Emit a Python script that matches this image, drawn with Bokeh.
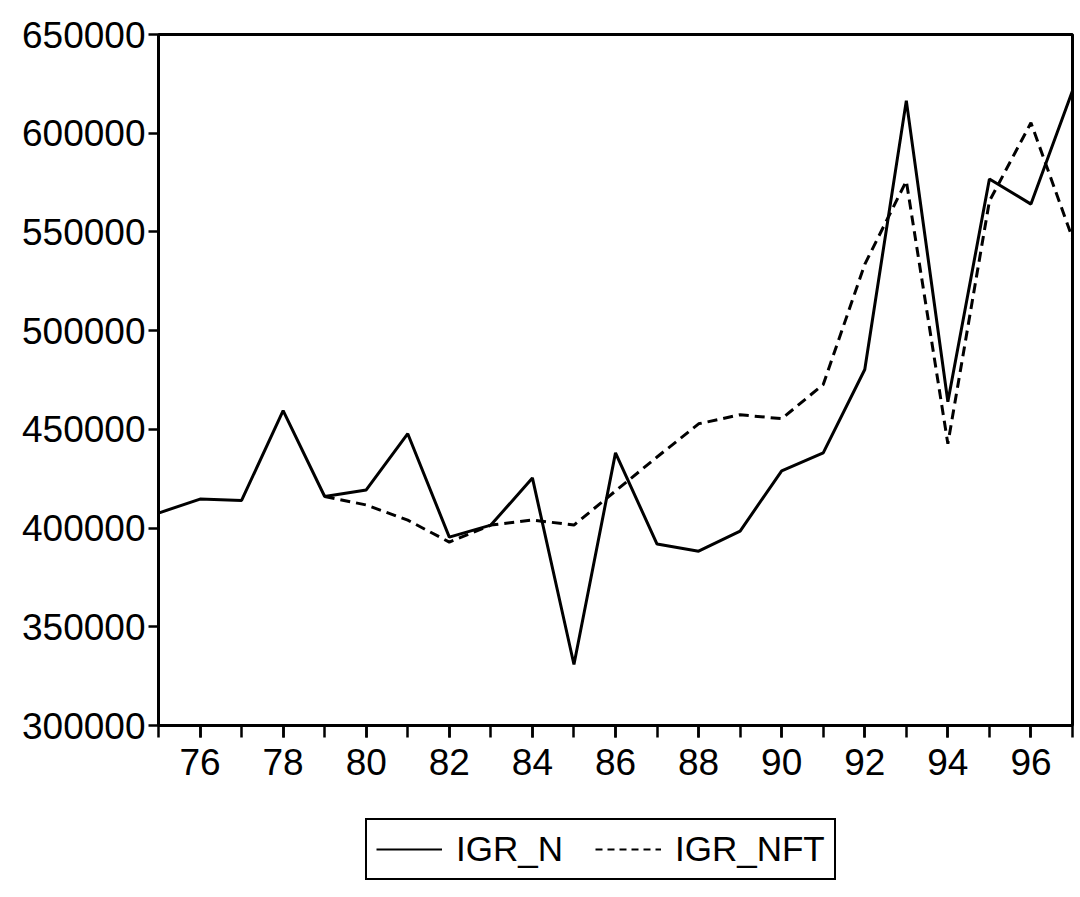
from bokeh.plotting import figure
from bokeh.models import Legend, LegendItem, FixedTicker, Range1d
from bokeh.layouts import column
from bokeh.embed import file_html
from bokeh.resources import INLINE

years = list(range(75, 98))
igr_n = [407600, 414700, 414000, 459500, 416000, 419300, 447800, 395400, 401500,
         425400, 330900, 438100, 391900, 388300, 398500, 429000, 438100, 480300,
         616500, 464000, 576800, 564100, 621500]
nft_years = list(range(79, 98))
igr_nft = [416000, 411700, 404000, 392900, 401500, 404100, 401500, 418800, 436000,
           452800, 457400, 455400, 472700, 533600, 575800, 442700, 565600, 605300,
           546800]
x_tick_labels = [str(y) for y in range(76, 97, 2)]
y_ticks = [300000, 350000, 400000, 450000, 500000, 550000, 600000, 650000]
series_names = ["IGR_N", "IGR_NFT"]

FONT = "Liberation Sans"
W = 1076

p = figure(width=W, height=790, output_backend="svg", toolbar_location=None,
           x_range=Range1d(75, 97), y_range=Range1d(300000, 650000),
           min_border_left=158, min_border_top=34, min_border_right=4,
           min_border_bottom=65)
p.grid.visible = False
p.outline_line_color = "black"
p.outline_line_width = 3
p.background_fill_color = "white"
p.border_fill_color = "white"

p.line(years, igr_n, line_color="black", line_width=3)
p.line(nft_years, igr_nft, line_color="black", line_width=3, line_dash="10 6")

# x axis
p.xaxis.ticker = FixedTicker(ticks=list(range(76, 97, 2)),
                             minor_ticks=list(range(75, 98)))
p.xaxis.major_label_overrides = {y: s for y, s in zip(range(76, 97, 2), x_tick_labels)}
p.xaxis.major_tick_in = 0
p.xaxis.major_tick_out = 12
p.xaxis.minor_tick_in = 0
p.xaxis.minor_tick_out = 12
p.xaxis.major_tick_line_width = 2.5
p.xaxis.minor_tick_line_width = 2.5
p.xaxis.axis_line_width = 3
p.xaxis.major_label_text_font = FONT
p.xaxis.major_label_text_font_size = "37px"
p.xaxis.major_label_text_color = "black"
p.xaxis.major_label_standoff = 11

# y axis
p.yaxis.ticker = FixedTicker(ticks=y_ticks)
p.yaxis.formatter.use_scientific = False
p.yaxis.major_tick_in = 0
p.yaxis.major_tick_out = 10
p.yaxis.minor_tick_line_color = None
p.yaxis.major_tick_line_width = 2.5
p.yaxis.axis_line_width = 3
p.yaxis.major_label_text_font = FONT
p.yaxis.major_label_text_font_size = "37px"
p.yaxis.major_label_text_color = "black"
p.yaxis.major_label_standoff = 3

# legend strip below the chart (series drawn off-range, only their legend glyphs show)
p2 = figure(width=W, height=100, output_backend="svg", toolbar_location=None,
            x_axis_type=None, y_axis_type=None,
            x_range=Range1d(0, 1), y_range=Range1d(0, 1),
            min_border_left=0, min_border_right=0, min_border_top=0, min_border_bottom=0)
p2.grid.visible = False
p2.outline_line_color = None
p2.border_fill_color = "white"
p2.background_fill_color = "white"
g1 = p2.line(years, igr_n, line_color="black", line_width=2.2)
g2 = p2.line(nft_years, igr_nft, line_color="black", line_width=2.2, line_dash="7 5")

legend = Legend(items=[LegendItem(label=series_names[0], renderers=[g1]),
                       LegendItem(label=series_names[1], renderers=[g2])],
                location=(207, 10), orientation="horizontal")
legend.label_text_font = FONT
legend.label_text_font_size = "35px"
legend.label_text_color = "black"
legend.border_line_color = "black"
legend.border_line_alpha = 1
legend.border_line_width = 2
legend.glyph_width = 66
legend.glyph_height = 30
legend.spacing = 32
legend.padding = 9
legend.label_standoff = 14
legend.margin = 0
legend.background_fill_alpha = 1
p2.add_layout(legend, "center")

layout = column(p, p2, spacing=0)
open("out.html", "w").write(file_html(layout, INLINE))
